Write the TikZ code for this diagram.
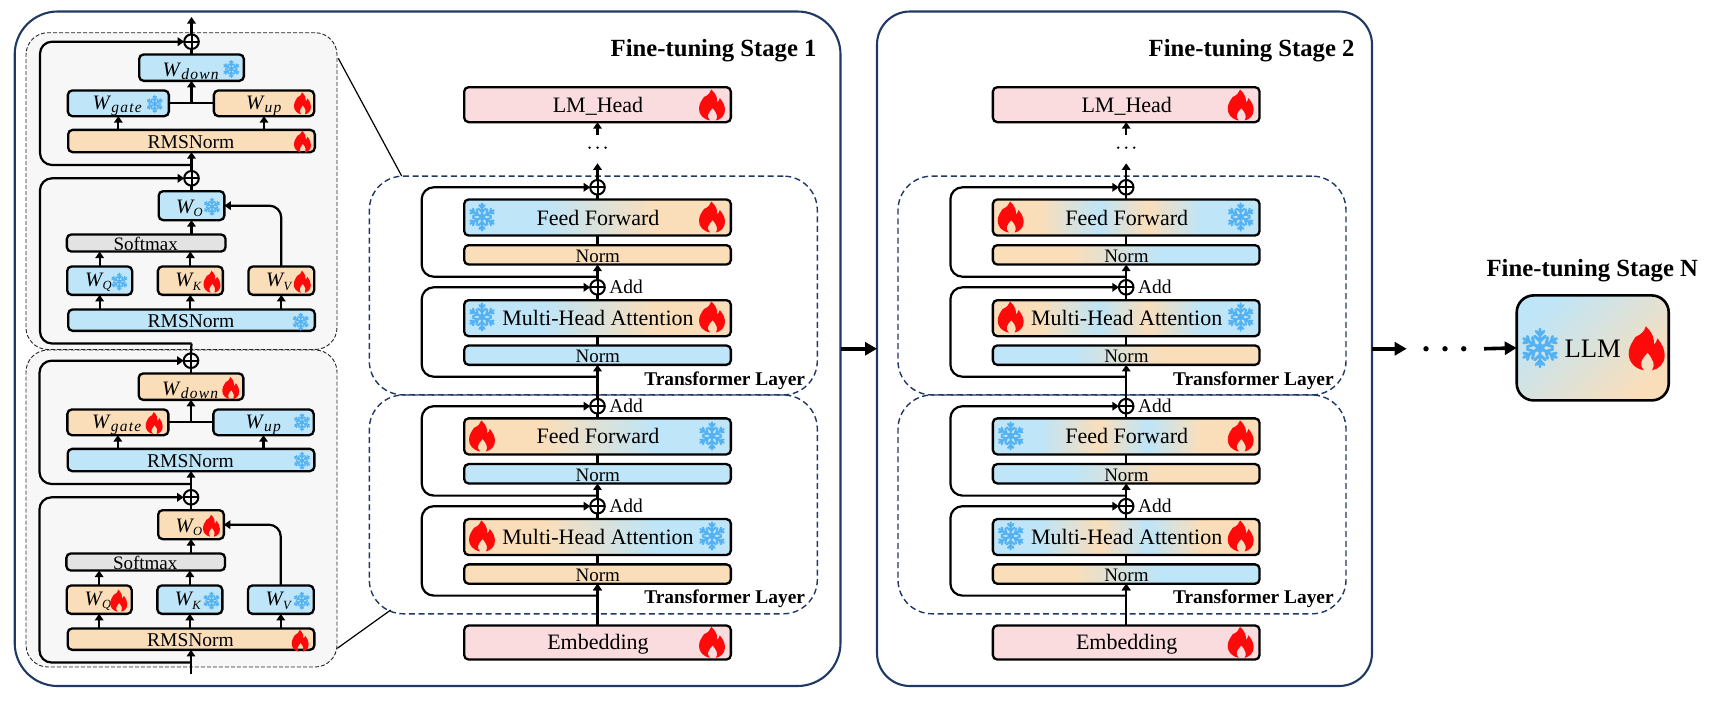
\documentclass[tikz,border=0pt]{standalone}
\usepackage{fontspec}
\setmainfont{Liberation Serif}
\usetikzlibrary{arrows.meta,calc}

\definecolor{navy}{HTML}{1F3864}
\definecolor{sb}{HTML}{BEE5F8}
\definecolor{so}{HTML}{FADEBA}
\definecolor{spk}{HTML}{FADCDF}
\definecolor{sgr}{HTML}{E3E3E3}
\definecolor{panel}{HTML}{F7F7F7}
\definecolor{flk}{HTML}{55B2F2}
\definecolor{flm}{HTML}{FF0A0A}

% horizontal colour ramps; the path is fitted to the 25bp..75bp range
\pgfdeclarehorizontalshading{rampbo}{100bp}{color(0bp)=(sb);color(40bp)=(sb);color(61bp)=(so);color(100bp)=(so)}
\pgfdeclarehorizontalshading{rampob}{100bp}{color(0bp)=(so);color(40bp)=(so);color(61bp)=(sb);color(100bp)=(sb)}
\pgfdeclarehorizontalshading{waveob}{100bp}{color(0bp)=(so);color(34bp)=(so);color(45bp)=(sb);color(54bp)=(so);color(64bp)=(sb);color(100bp)=(sb)}
\pgfdeclarehorizontalshading{wavebo}{100bp}{color(0bp)=(sb);color(34bp)=(sb);color(45bp)=(so);color(54bp)=(sb);color(64bp)=(so);color(100bp)=(so)}
\pgfdeclarehorizontalshading{softob}{100bp}{color(0bp)=(so);color(40bp)=(so);color(56bp)=(sb);color(100bp)=(sb)}
\pgfdeclarehorizontalshading{softbo}{100bp}{color(0bp)=(sb);color(40bp)=(sb);color(56bp)=(so);color(100bp)=(so)}

\tikzset{
  bxs/.style={draw=black,line width=2.3pt,rounded corners=4.5pt,inner sep=0pt,outer sep=0pt},
  fblue/.style={fill=sb}, forange/.style={fill=so}, fpink/.style={fill=spk}, fgray/.style={fill=sgr},
  rbo/.style={shade,shading=rampbo}, rob/.style={shade,shading=rampob},
  wbo/.style={shade,shading=wavebo}, wob/.style={shade,shading=waveob},
  nbo/.style={shade,shading=softbo}, nob/.style={shade,shading=softob},
  wire/.style={draw=black,line width=2.2pt},
  arw/.style={wire,-{Triangle[length=6.5pt,width=8.5pt]}},
  loopw/.style={arw,rounded corners=12pt},
  sumn/.style={circle,draw=black,line width=2pt,minimum size=14.6pt,inner sep=0pt,outer sep=0pt,
    path picture={\draw[line width=2pt] (path picture bounding box.north)--(path picture bounding box.south)
      (path picture bounding box.west)--(path picture bounding box.east);}},
  lay/.style={draw=navy,line width=1.4pt,dash pattern=on 6pt off 3.6pt,rounded corners=34pt,inner sep=0pt,outer sep=0pt},
  zoomb/.style={draw=black!85,fill=panel,line width=.9pt,dash pattern=on 4pt off 2pt,rounded corners=22pt,inner sep=0pt,outer sep=0pt},
  stagebox/.style={draw=navy,line width=2.1pt,inner sep=0pt,outer sep=0pt},
  txt/.style={anchor=base,inner sep=0pt,outer sep=0pt},
  txtw/.style={anchor=base west,inner sep=0pt,outer sep=0pt},
  txte/.style={anchor=base east,inner sep=0pt,outer sep=0pt},
  heavy/.style={draw=black,line width=3.6pt,-{Triangle[length=12pt,width=13pt]}},
  dotn/.style={circle,fill=black,inner sep=0pt,outer sep=0pt},
}
\newcommand\fsz[1]{\fontsize{#1}{#1}\selectfont}

% box given by its outer edges: name, style, x1, y1, x2, y2
\newcommand\bx[6]{\node[bxs,#2,minimum width={#5-#3-2.3},minimum height={#6-#4-2.3}] (#1) at ({(#3+#5)/2},{(#4+#6)/2}) {};}

% flame: x, y, width, height
\newcommand\flameic[4]{\fill[flm,shift={(#1,#2)},xscale=#3/2,yscale=-#4/2]
  (-.15,-1) .. controls (-.7,-.92) and (-1,-.6) .. (-1,-.25)
  .. controls (-1,.1) and (-.78,.3) .. (-.62,.52)
  .. controls (-.32,.62) and (-.12,.78) .. (-.05,1)
  .. controls (.32,.72) and (.44,.42) .. (.4,.16)
  .. controls (.5,.24) and (.56,.33) .. (.6,.45)
  .. controls (.85,.2) and (1,-.05) .. (1,-.32)
  .. controls (1,-.7) and (.65,-.95) .. (.3,-1)
  .. controls (.5,-.75) and (.35,-.5) .. (.05,-.2)
  .. controls (-.3,-.5) and (-.45,-.75) .. (-.15,-1) -- cycle;}
% snowflake: x, y, radius
\newcommand\snowic[3]{\begin{scope}[shift={(#1,#2)},x=#3pt,y=#3pt,line width=0.15*#3pt,draw=flk,line cap=round]
  \foreach \a in {30,90,...,330}{\draw[rotate=\a] (0,0)--(1,0) (.36,0)--(.62,.28) (.36,0)--(.62,-.28) (.66,0)--(.88,.2) (.66,0)--(.88,-.2);}
  \fill[flk] (0,0) circle (.24);
\end{scope}}
\newcommand\flameS[2]{\flameic{#1}{#2}{17}{22}}
\newcommand\snowS[2]{\snowic{#1}{#2}{8.4}}
\newcommand\flameB[2]{\flameic{#1}{#2}{26}{31}}
\newcommand\snowB[2]{\snowic{#1}{#2}{13.6}}

% weight labels: name, x, baseline, subscript; the second form takes a capital subscript
\newcommand\wlab[4]{\node[txtw] (#1) at (#2,#3) {\fsz{20.5}\textit{W}\raisebox{-3.5pt}{\fsz{15.5}\addfontfeature{LetterSpace=8}\textit{#4}}};}
\newcommand\wcap[4]{\node[txtw] (#1) at (#2,#3) {\fsz{20.5}\textit{W}\hspace{-1pt}\raisebox{-3.5pt}{\fsz{12.5}\textit{#4}}};}

% one zoomed transformer layer: prefix, dx, dy, styleA, iconA, styleB, iconB
\newcommand\zoomlayer[7]{\begin{scope}[shift={(#2,#3)}]
  \node[sumn] (#1sa) at (191.5,41.7) {};
  \bx{#1down}{#4}{138}{53.3}{245}{82}
  \bx{#1gate}{#4}{66.7}{89.3}{170}{117.3}
  \bx{#1up}{#6}{212.7}{89.3}{315.3}{117.3}
  \bx{#1rma}{#6}{67}{128.7}{316}{153.3}
  \node[sumn] (#1sb) at (191.5,178.3) {};
  \bx{#1wo}{#4}{157.5}{190}{225.5}{221.3}
  \bx{#1sm}{fgray}{65.7}{233.3}{226.7}{252.7}
  \bx{#1wq}{#4}{66}{265.3}{133.3}{296}
  \bx{#1wk}{#6}{156.7}{265.3}{224}{296}
  \bx{#1wv}{#6}{247.3}{265.3}{315.3}{296}
  \bx{#1rmb}{#4}{67}{308.3}{316}{332}
  \wlab{#1tdown}{162.7}{76}{down}
  \wlab{#1tgate}{92.7}{109.3}{gate}
  \wlab{#1tup}{246}{109.3}{up}
  \wcap{#1to}{176}{213.3}{O}
  \wcap{#1tq}{85}{286}{Q}
  \wcap{#1tk}{175.3}{286.7}{K}
  \wcap{#1tv}{266}{286.7}{V}
  \node[txt] (#1trma) at (191,148) {\fsz{19.5}RMSNorm};
  \node[txt] (#1tsm) at (145.7,250.7) {\fsz{19}Softmax};
  \node[txt] (#1trmb) at (191,327.4) {\fsz{19.5}RMSNorm};
  #5{231.3}{69}
  #5{154.7}{104}
  #7{302.5}{103.3}
  #7{302.5}{141.7}
  #5{212}{206.7}
  #5{119.3}{281.7}
  #7{212}{281.7}
  #7{302.3}{281.7}
  #5{300.7}{321.7}
  \coordinate (#1ja) at (191.5,103.3);
  \coordinate (#1ba) at (191.5,165);
  \coordinate (#1bb) at (191.5,343.5);
  \coordinate (#1lx) at (40,0);
  \draw[wire] (#1down.north) -- (#1sa.south);
  \draw[wire] (#1gate.east) -- (#1up.west);
  \draw[arw] (#1ja) -- (#1down.south);
  \draw[arw] (#1gate.south |- #1rma.north) -- (#1gate.south);
  \draw[arw] (#1up.south |- #1rma.north) -- (#1up.south);
  \draw[arw] (#1sb.north) -- (#1rma.south);
  \draw[wire] (#1wo.north) -- (#1sb.south);
  \draw[arw] (#1wo.south |- #1sm.north) -- (#1wo.south);
  \draw[arw] (#1wq.north) -- (#1wq.north |- #1sm.south);
  \draw[arw] (#1wk.north) -- (#1wk.north |- #1sm.south);
  \draw[arw] (#1wq.south |- #1rmb.north) -- (#1wq.south);
  \draw[arw] (#1wk.south |- #1rmb.north) -- (#1wk.south);
  \draw[arw] (#1wv.south |- #1rmb.north) -- (#1wv.south);
  \draw[loopw] (#1wv.north) -- (#1wv.north |- #1wo.east) -- (#1wo.east);
  \draw[loopw] (#1ba) -- (#1ba -| #1lx) -- (#1lx |- #1sa.west) -- (#1sa.west);
  \draw[loopw] (#1bb) -- (#1bb -| #1lx) -- (#1lx |- #1sb.west) -- (#1sb.west);
\end{scope}}

% one transformer layer of the main column:
% prefix, dy, attention/feed-forward fill, left icon, right icon, upper norm fill, lower norm fill
\newcommand\tlayer[7]{\begin{scope}[shift={(0,#2)}]
  \node[lay,minimum width=448pt,minimum height=218.8pt] (#1frame) at (593.3,285.5) {};
  \node[txte] (#1cap) at (805,385) {\fsz{19.4}\bfseries Transformer Layer};
  \node[sumn] (#1sa) at (597.5,187.3) {};
  \bx{#1ff}{#3}{463}{198.3}{732}{236.7}
  \bx{#1na}{#6}{463}{244}{732}{265.7}
  \node[sumn] (#1sb) at (597.5,287.3) {};
  \bx{#1mh}{#3}{463}{299}{732}{337.3}
  \bx{#1nb}{#7}{463}{344.3}{732}{366}
  \node[txt] (#1tff) at (598,225) {\fsz{22}Feed Forward};
  \node[txt] (#1tna) at (597.7,262.3) {\fsz{19}Norm};
  \node[txt] (#1tmh) at (598,325.7) {\fsz{22}Multi-Head Attention};
  \node[txt] (#1tnb) at (597.7,362.7) {\fsz{19}Norm};
  #4{482}{217}
  #5{712}{217}
  #4{482}{317}
  #5{712}{317}
  \coordinate (#1ba) at (597.5,276.7);
  \coordinate (#1bb) at (597.5,376.7);
  \coordinate (#1lx) at (421.7,0);
  \draw[wire] (#1ff.north) -- (#1sa.south);
  \draw[wire] (#1na.north) -- (#1ff.south);
  \draw[arw] (#1sb.north) -- (#1na.south);
  \draw[wire] (#1mh.north) -- (#1sb.south);
  \draw[wire] (#1nb.north) -- (#1mh.south);
  \draw[arw] (#1bb) -- (#1nb.south);
  \draw[loopw] (#1ba) -- (#1ba -| #1lx) -- (#1lx |- #1sa.west) -- (#1sa.west);
  \draw[loopw] (#1bb) -- (#1bb -| #1lx) -- (#1lx |- #1sb.west) -- (#1sb.west);
\end{scope}}

% full stage column: prefix, dx, then fills and icons of the two layers
\newcommand\stagecol[9]{\begin{scope}[shift={(#2,0)}]
  \bx{#1head}{fpink}{463}{86}{732}{123.3}
  \node[txt] (#1thead) at (598,112.7) {\fsz{22}LM\_Head};
  \flameB{712}{105}
  \node[dotn,minimum size=2.6pt] (#1da) at (589.5,147.7) {};
  \node[dotn,minimum size=2.6pt] (#1db) at (597.5,147.7) {};
  \node[dotn,minimum size=2.6pt] (#1dc) at (605.5,147.7) {};
  \coordinate (#1ha) at (597.5,135);
  \coordinate (#1hb) at (597.5,163.3);
  \bx{#1emb}{fpink}{463}{624.3}{732}{660.7}
  \node[txt] (#1temb) at (598,649.3) {\fsz{22}Embedding};
  \flameB{712}{642.3}
  \tlayer{#1u}{0}{#3}{#4}{#5}{#6}{#7}
  \tlayer{#1l}{218.9}{#8}{#5}{#4}{#9}{#6}
  \node[txtw] (#1adda) at (609.3,293.3) {\fsz{19.5}Add};
  \node[txtw] (#1addb) at (609.3,412) {\fsz{19.5}Add};
  \node[txtw] (#1addc) at (609.3,512.2) {\fsz{19.5}Add};
  \draw[arw] (#1ha) -- (#1head.south);
  \draw[arw] (#1usa.north) -- (#1hb);
  \draw[wire] (#1lsa.north) -- (#1ubb);
  \draw[arw] (#1emb.north) -- (#1lnb.south);
\end{scope}}

\begin{document}
\begin{tikzpicture}[x=1pt,y=-1pt]
\useasboundingbox (0,0) rectangle (1713,702);

% stage frames
\node[stagebox,rounded corners=43pt,minimum width=825.8pt,minimum height=674.5pt] (stone) at (427.6,348.75) {};
\node[stagebox,rounded corners=33pt,minimum width=495pt,minimum height=674.5pt] (sttwo) at (1124.5,348.75) {};
\node[txte] (ttone) at (816.5,56.7) {\fsz{24.7}\bfseries Fine-tuning Stage 1};
\node[txte] (tttwo) at (1354.5,56.4) {\fsz{24.7}\bfseries Fine-tuning Stage 2};
\node[txt] (ttn) at (1592.3,276.7) {\fsz{24.7}\bfseries Fine-tuning Stage N};

% zoomed view of the two layers
\node[zoomb,minimum width=311pt,minimum height=316.8pt] (zup) at (181.5,191.1) {};
\node[zoomb,minimum width=311pt,minimum height=317pt] (zlo) at (181.5,508.5) {};
\zoomlayer{za}{0}{0}{fblue}{\snowS}{forange}{\flameS}
\zoomlayer{zb}{-0.5}{319}{forange}{\flameS}{fblue}{\snowS}
\coordinate (zin) at (191,674);
\draw[arw] (zin) -- (zbrmb.south);
\draw[wire] (zbsa.north) -- (zabb);
\coordinate (zout) at (191.5,17);
\draw[arw] (zasa.north) -- (zout);

% stage columns
\stagecol{a}{0}{rbo}{\snowB}{\flameB}{forange}{fblue}{rob}{fblue}
\stagecol{b}{528.7}{wob}{\flameB}{\snowB}{nob}{nbo}{wbo}{nbo}

% leader lines from the zoomed view
\coordinate (zta) at (338.3,58.3);
\coordinate (ztb) at (401.7,176);
\coordinate (zba) at (337.3,648.3);
\coordinate (zbb) at (390.7,610);
\draw[line width=1.2pt] (zta) -- (ztb);
\draw[line width=1.2pt] (zba) -- (zbb);

% final model
\node[bxs,line width=2.6pt,rounded corners=17pt,top color=sb,bottom color=so,shading angle=45,minimum width=152pt,minimum height=105pt] (llm) at (1592.7,347.9) {};
\node[txt] (tllm) at (1592.7,357.7) {\fsz{26.7}LLM};
\snowic{1540}{348}{19}
\flameic{1646.7}{348.3}{36}{44}

% transitions between stages
\coordinate (arra) at (1406.7,348.75);
\coordinate (arrb) at (1484,348.75);
\node[dotn,minimum size=5.4pt] (pa) at (1426,348.75) {};
\node[dotn,minimum size=5.4pt] (pb) at (1445,348.75) {};
\node[dotn,minimum size=5.4pt] (pc) at (1463.7,348.75) {};
\draw[heavy] (stone.east) -- (sttwo.west);
\draw[heavy] (sttwo.east) -- (arra);
\draw[heavy] (arrb) -- (llm.west);
\end{tikzpicture}
\end{document}
